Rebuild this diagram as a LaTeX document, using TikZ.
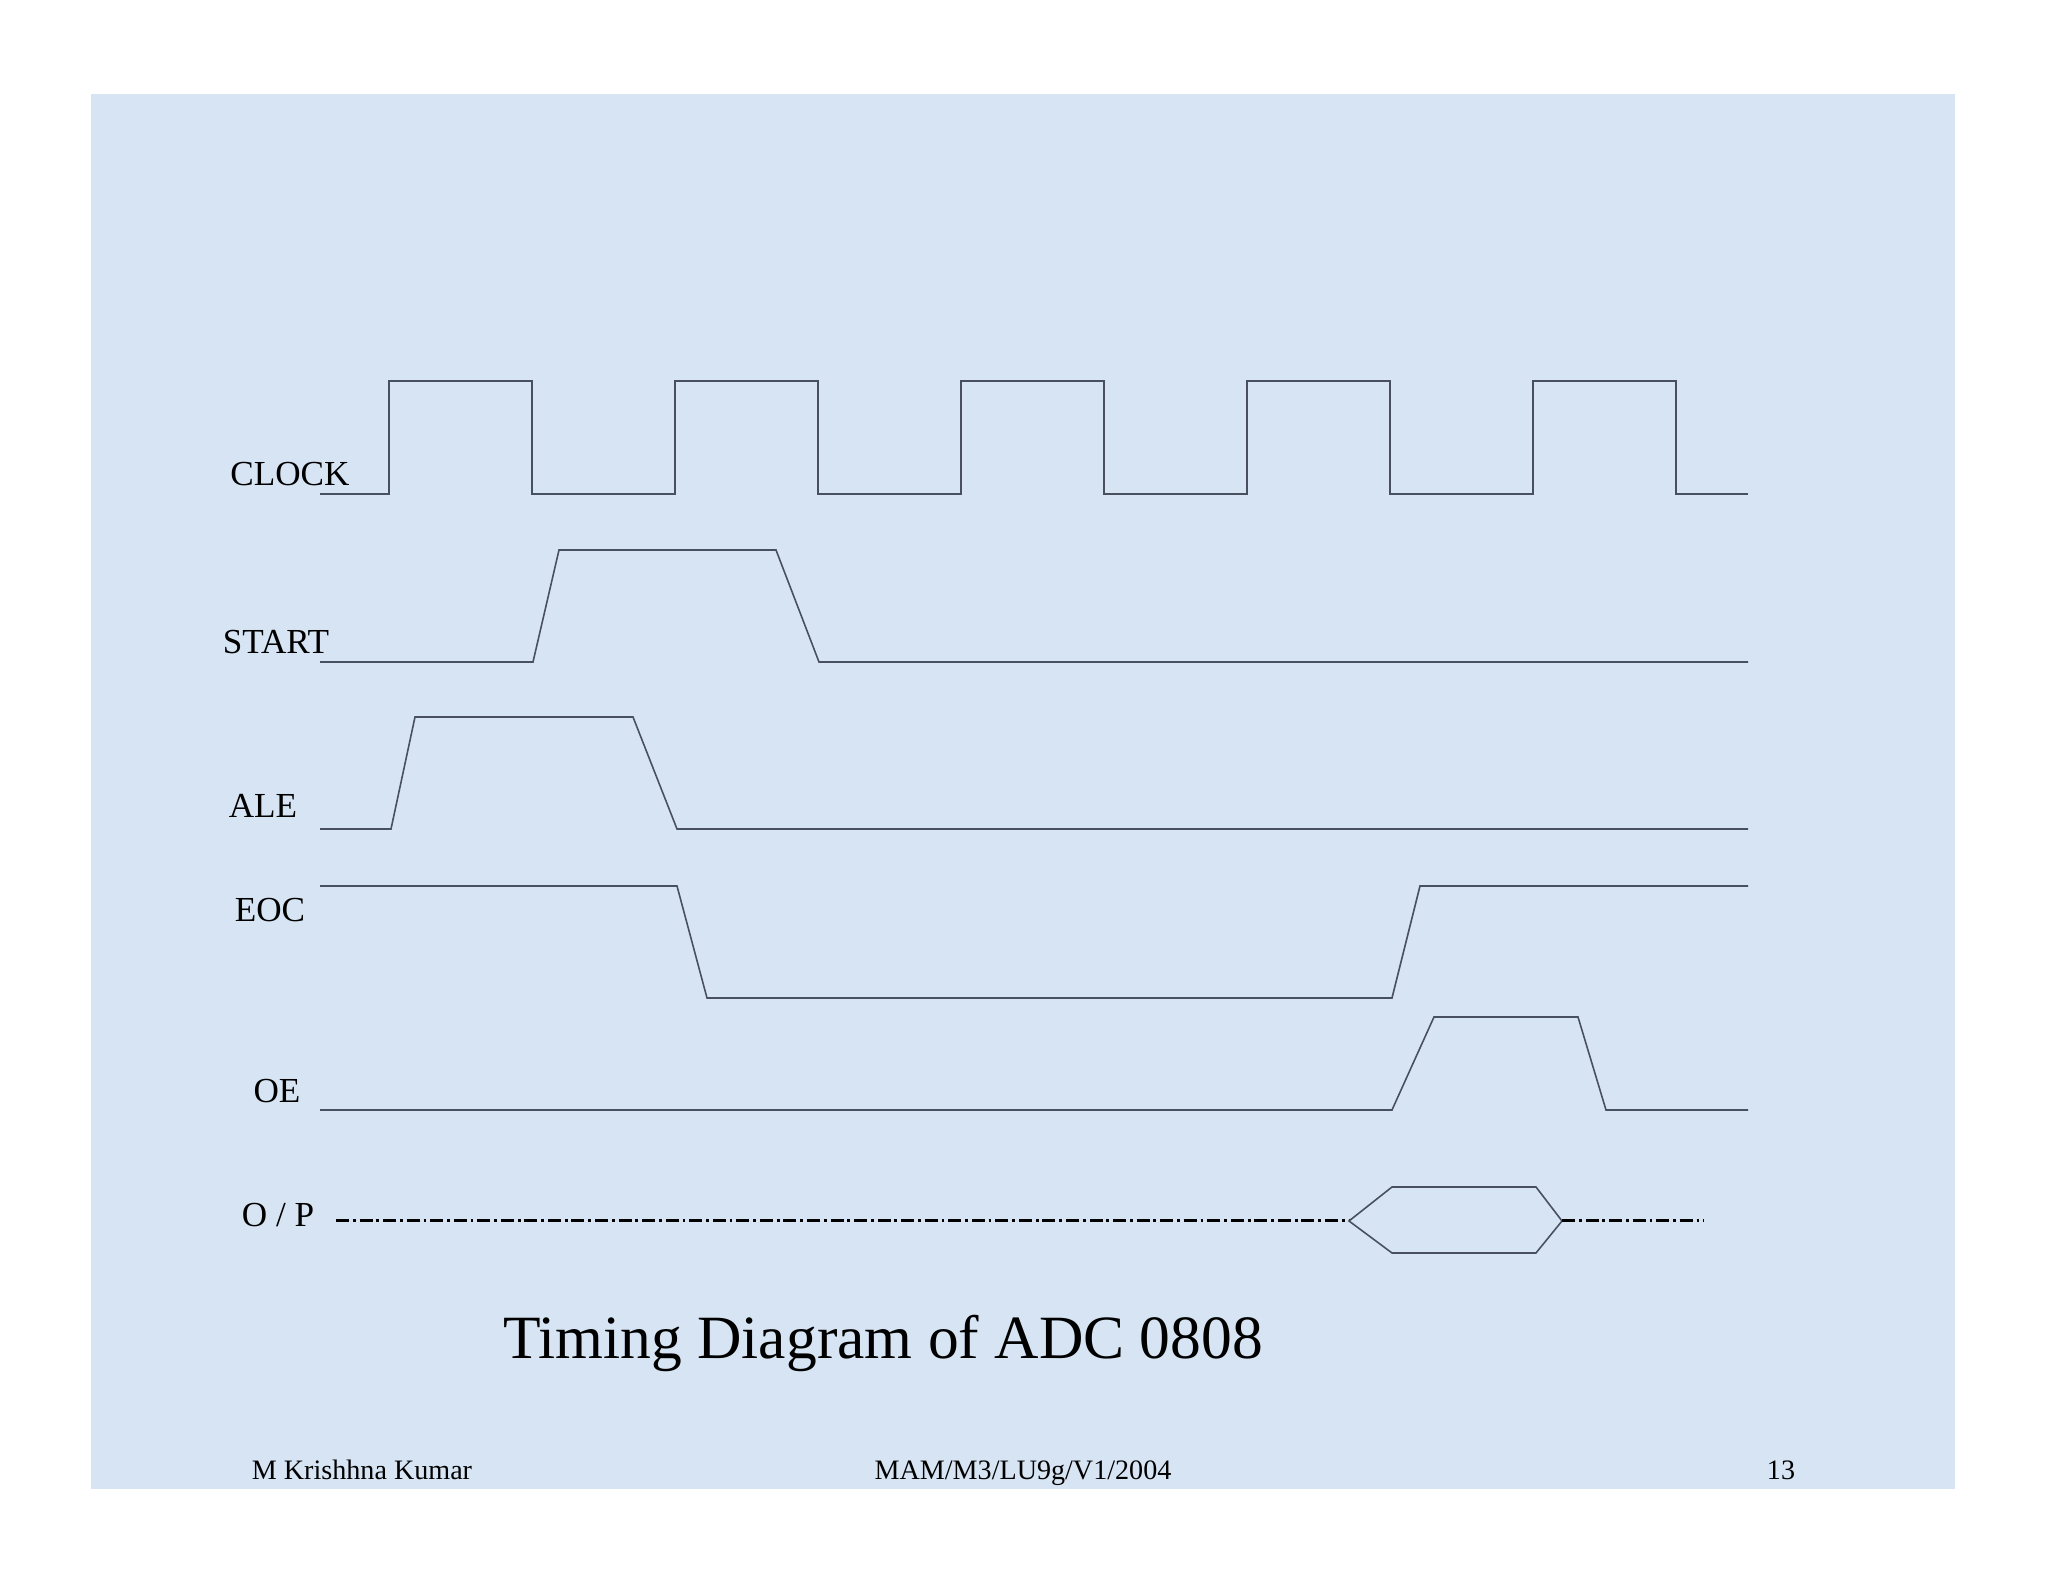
\documentclass[tikz,border=0pt]{standalone}
\usepackage{fontspec}
\setmainfont{Liberation Serif}
\usepackage{xcolor}

\definecolor{slidebg}{RGB}{214,228,243}
\definecolor{wavecol}{RGB}{72,80,96}

\begin{document}
\begin{tikzpicture}[
    wave/.style={line width=0.45pt, draw=wavecol},
    databus/.style={line width=0.85pt, draw=black, dash pattern=on 3.7pt off 1.1pt on 0.8pt off 1.1pt},
    siglabel/.style={inner sep=0pt, font=\fontsize{10}{12}\selectfont},
    footer/.style={inner sep=0pt, anchor=base, font=\fontsize{8}{10}\selectfont}
]

    \useasboundingbox (0,0) rectangle (20.48,15.82);

    % Slide background
    \fill[slidebg] (0.91,0.93) rectangle (19.55,14.88);

    % Signal names
    \node[siglabel] (clk) at (2.90,11.08) {CLOCK};
    \node[siglabel] (start) at (2.76,9.40) {START};
    \node[siglabel] (ale) at (2.63,7.76) {ALE};
    \node[siglabel] (eoc) at (2.70,6.72) {EOC};
    \node[siglabel] (oe) at (2.77,4.91) {OE};
    \node[siglabel] (op) at (2.78,3.67) {O / P};

    % Clock
    \draw[wave] (3.20,10.88)
        \foreach \x in {3.89,6.75,9.61,12.47,15.33} {
            -- (\x,10.88) -- (\x,12.01) -- ({\x+1.43},12.01) -- ({\x+1.43},10.88)
        } -- (17.48,10.88);

    % Start
    \draw[wave] (3.20,9.20) -- (5.33,9.20) -- (5.59,10.32) -- (7.76,10.32) -- (8.19,9.20) -- (17.48,9.20);

    % ALE
    \draw[wave] (3.20,7.53) -- (3.91,7.53) -- (4.15,8.65) -- (6.33,8.65) -- (6.77,7.53) -- (17.48,7.53);

    % EOC
    \draw[wave] (3.20,6.96) -- (6.77,6.96) -- (7.07,5.84) -- (13.92,5.84) -- (14.20,6.96) -- (17.48,6.96);

    % OE
    \draw[wave] (3.20,4.72) -- (13.92,4.72) -- (14.34,5.65) -- (15.78,5.65) -- (16.06,4.72) -- (17.48,4.72);

    % Output data
    \draw[databus] (3.36,3.61) -- (13.49,3.61);
    \draw[wave] (13.49,3.61) -- (13.92,3.95) -- (15.36,3.95) -- (15.62,3.61) -- (15.36,3.29) -- (13.92,3.29) -- cycle;
    \draw[databus] (15.62,3.61) -- (17.04,3.61);

    % Title and footer
    \node[inner sep=0pt, font=\fontsize{17.5}{21}\selectfont] (title) at (8.83,2.38) {Timing Diagram of ADC 0808};
    \node[footer] (author) at (3.62,1.02) {M Krishhna Kumar};
    \node[footer] (code) at (10.23,1.02) {MAM/M3/LU9g/V1/2004};
    \node[footer] (page) at (17.81,1.02) {13};

\end{tikzpicture}
\end{document}
